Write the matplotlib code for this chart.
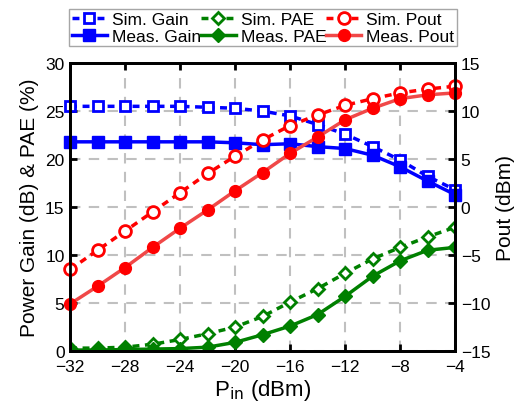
import numpy as np
import matplotlib
matplotlib.use("Agg")
import matplotlib.pyplot as plt

# Data
pin = [-32, -30, -28, -26, -24, -22, -20, -18, -16, -14, -12, -10, -8, -6, -4]

sim_gain = [25.5, 25.5, 25.5, 25.5, 25.5, 25.4, 25.3, 25.0, 24.5, 23.6, 22.6, 21.3, 19.9, 18.2, 16.8]
meas_gain = [21.8, 21.8, 21.8, 21.8, 21.8, 21.8, 21.7, 21.5, 21.6, 21.3, 21.1, 20.4, 19.2, 17.7, 16.3]

sim_pae = [0.3, 0.3, 0.4, 0.7, 1.2, 1.8, 2.5, 3.6, 5.1, 6.5, 8.1, 9.6, 10.8, 11.9, 12.9]
meas_pae = [0.1, 0.1, 0.15, 0.2, 0.25, 0.4, 0.9, 1.7, 2.6, 3.8, 5.7, 7.8, 9.4, 10.5, 10.8]

sim_pout = [-6.5, -4.5, -2.5, -0.5, 1.5, 3.5, 5.3, 7.0, 8.5, 9.6, 10.6, 11.3, 11.9, 12.3, 12.6]
meas_pout = [-10.1, -8.25, -6.3, -4.2, -2.2, -0.3, 1.7, 3.6, 5.6, 7.3, 9.1, 10.3, 11.3, 11.7, 11.9]

plt.rcParams["font.family"] = ["Liberation Sans", "DejaVu Sans"]

fig = plt.figure(figsize=(5.19, 4.06), dpi=100)
ax = fig.add_axes([0.135, 0.133, 0.742, 0.709])
ax2 = ax.twinx()

lw = 2.5
dash = (0, (2.0, 1.6))
ms = 8.5

h1, = ax.plot(pin, sim_gain, color="blue", ls=dash, lw=lw, marker="s", ms=ms - 1,
              mfc="white", mec="blue", mew=2, label="Sim. Gain", clip_on=False)
h2, = ax.plot(pin, sim_pae, color="green", ls=dash, lw=lw, marker="D", ms=ms - 2,
              mfc="white", mec="green", mew=2, label="Sim. PAE")
h4, = ax.plot(pin, meas_gain, color="blue", ls="-", lw=lw, marker="s", ms=ms,
              mfc="blue", mec="blue", label="Meas. Gain", clip_on=False)
h5, = ax.plot(pin, meas_pae, color="green", ls="-", lw=lw, marker="D", ms=ms - 1,
              mfc="green", mec="green", label="Meas. PAE")
h3, = ax2.plot(pin, sim_pout, color="red", ls=dash, lw=lw, marker="o", ms=ms,
               mfc="white", mec="red", mew=2, label="Sim. Pout", clip_on=False)
h6, = ax2.plot(pin, meas_pout, color="#f04848", ls="-", lw=lw, marker="o", ms=ms,
               mfc="red", mec="red", label="Meas. Pout", clip_on=False)

ax.set_xlim(-32, -4)
ax.set_ylim(0, 30)
ax2.set_ylim(-15, 15)
ax.set_xticks(np.arange(-32, -3, 4))
ax.set_yticks(np.arange(0, 31, 5))
ax2.set_yticks(np.arange(-15, 16, 5))

ax.grid(True, color="#c0c0c0", ls=(0, (5, 4)), lw=1.5)
ax.set_axisbelow(True)

for a in (ax, ax2):
    for s in a.spines.values():
        s.set_linewidth(2)
    a.tick_params(direction="in", width=2, length=5, labelsize=12.5)
ax.tick_params(top=True, pad=4)
ax.tick_params(axis="x", pad=6)
ax2.tick_params(pad=4)

ax.set_xlabel(r"P$_{\rm in}$ (dBm)", fontsize=16, labelpad=2)
ax.set_ylabel("Power Gain (dB) & PAE (%)", fontsize=15, labelpad=4)
ax2.set_ylabel("Pout (dBm)", fontsize=15, labelpad=4)

fig.legend(handles=[h1, h4, h2, h5, h3, h6], ncol=3, loc="upper center",
           bbox_to_anchor=(0.507, 0.975), fontsize=12.5, frameon=True,
           fancybox=False, edgecolor="#909090", columnspacing=0.0,
           handlelength=2.0, handletextpad=0.3, labelspacing=0.1,
           borderpad=0.15, borderaxespad=0)

fig.savefig("out.png", dpi=100)
